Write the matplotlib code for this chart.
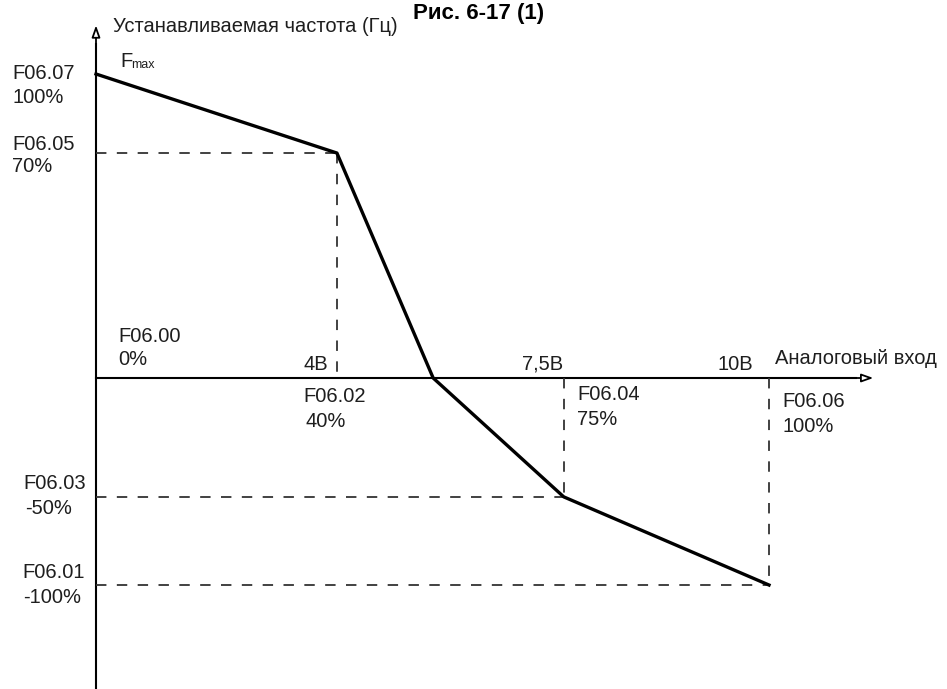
import matplotlib
matplotlib.use("Agg")
import matplotlib.pyplot as plt

plt.rcParams['font.family'] = ['Liberation Sans', 'DejaVu Sans']
plt.rcParams['lines.scale_dashes'] = False

W, H = 947, 689

# breakpoints of the characteristic (diagram is schematic, not to scale)
x_pts = [0, 3.58, 5.01, 6.95, 10.0]      # positions along the input axis
y_pts = [100, 74, 0, -39.1, -68.1]       # positions along the frequency axis
y_labels = [("F06.07", "100%"), ("F06.05", "70%"), ("F06.03", "-50%"), ("F06.01", "-100%")]
x_ticks = ["4В", "7,5В", "10В"]
x_labels = [("F06.00", "0%"), ("F06.02", "40%"), ("F06.04", "75%"), ("F06.06", "100%")]

fig = plt.figure(figsize=(W / 100, H / 100), dpi=100)
ax = fig.add_axes([0, 0, 1, 1])
ax.set_xlim(-96 / 67.3, (W - 96) / 67.3)
ax.set_ylim(-(H - 378) / 3.04, 378 / 3.04)
ax.axis('off')

ink = '#1e1e1e'

# axes with open arrowheads
arr = dict(arrowstyle='-|>,head_length=0.7,head_width=0.25', fc='white', ec='black', lw=1.3,
           shrinkA=0, shrinkB=0)
ax.plot([0, 0], [ax.get_ylim()[0], 110], color='black', lw=1.5)
ax.annotate('', xy=(0, 116), xytext=(0, 108), arrowprops=arr)
ax.plot([0, 11.3], [0, 0], color='black', lw=1.5)
ax.annotate('', xy=(11.55, 0), xytext=(11.2, 0), arrowprops=arr)

# dashed guides
dash = dict(color='#333333', lw=1.3, dashes=(7.5, 7.5))
ax.plot([0, x_pts[1]], [y_pts[1], y_pts[1]], **dash)
ax.plot([x_pts[1], x_pts[1]], [y_pts[1], 0], **dash)
ax.plot([0, x_pts[3]], [y_pts[3], y_pts[3]], **dash)
ax.plot([x_pts[3], x_pts[3]], [0, y_pts[3]], **dash)
ax.plot([0, x_pts[4]], [y_pts[4], y_pts[4]], **dash)
ax.plot([x_pts[4], x_pts[4]], [0, y_pts[4]], **dash)

# characteristic
ax.plot(x_pts, y_pts, color='black', lw=2.4, solid_joinstyle='round')


def txt(x, y, s, **kw):
    kw.setdefault('fontsize', 14.5)
    kw.setdefault('color', ink)
    fig.text(x / W, 1 - y / H, s, va='baseline', ha=kw.pop('ha', 'left'), **kw)


txt(479, 19, "Рис. 6-17 (1)", fontsize=16, fontweight='bold', color='black', ha='center')
txt(113, 32, "Устанавливаемая частота (Гц)")
txt(775, 364, "Аналоговый вход")
txt(120, 67, "F")
txt(131, 68, "max", fontsize=9)

# y-axis parameter labels
for (code, pct), (x1, b1, x2, b2) in zip(y_labels, [(12, 79, 12, 103), (12, 150, 12, 172),
                                                      (23, 489, 25, 514), (22, 578, 23, 603)]):
    txt(x1, b1, code)
    txt(x2, b2, pct)

# x-axis voltage marks
for s, x in zip(x_ticks, [303, 522, 717]):
    txt(x, 370, s)

# x-axis parameter labels
for (code, pct), (x1, b1, x2, b2) in zip(x_labels, [(118, 342, 118, 365), (303, 402, 305, 427),
                                                      (577, 400, 577, 425), (782, 407, 782, 432)]):
    txt(x1, b1, code)
    txt(x2, b2, pct)

fig.savefig("out.png", dpi=100)
